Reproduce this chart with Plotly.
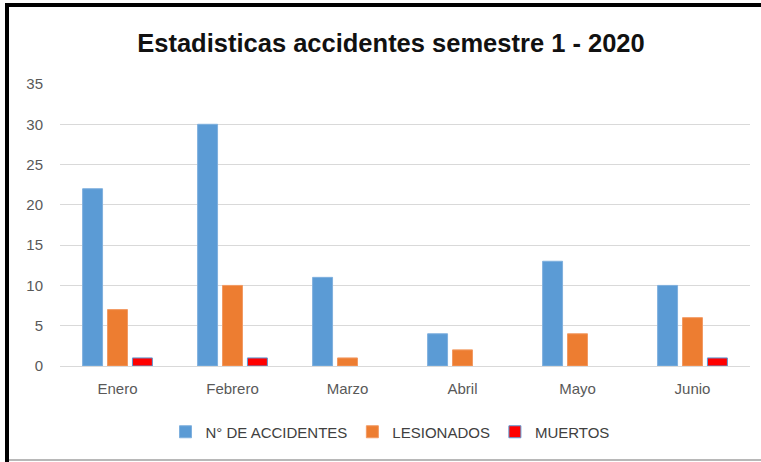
import plotly.graph_objects as go

categories = ["Enero", "Febrero", "Marzo", "Abril", "Mayo", "Junio"]
accidentes = [22, 30, 11, 4, 13, 10]
lesionados = [7, 10, 1, 2, 4, 6]
muertos = [1, 1, 0, 0, 0, 1]
series_names = ["N° DE ACCIDENTES", "LESIONADOS", "MUERTOS"]
y_ticks = [0, 5, 10, 15, 20, 25, 30, 35]

W, H = 761, 462
L, R, T, B = 60, 11, 84, 96
pw, ph = W - L - R, H - T - B

def px_x(p):
    return (p - L) / pw

def px_y(p):
    return (H - B - p) / ph

def edge_widths(vals):
    return [1 if v > 0 else 0 for v in vals]

font_fam = "Liberation Sans, Arial, sans-serif"

fig = go.Figure()
fig.add_bar(x=categories, y=accidentes, name=series_names[0],
            marker=dict(color="#5B9BD5", line=dict(color="#7FB0DE", width=edge_widths(accidentes))))
fig.add_bar(x=categories, y=lesionados, name=series_names[1],
            marker=dict(color="#ED7D31", line=dict(color="#F29A63", width=edge_widths(lesionados))))
fig.add_bar(x=categories, y=muertos, name=series_names[2],
            marker=dict(color="#FF0000", line=dict(color="#5B9BD5", width=edge_widths(muertos))))

fig.update_layout(
    width=W, height=H,
    margin=dict(l=L, r=R, t=T, b=B),
    paper_bgcolor="white", plot_bgcolor="white",
    barmode="group", bargap=0.35, bargroupgap=0.2,
    title=dict(text="<b>Estadisticas accidentes semestre 1 - 2020</b>",
               font=dict(family="Liberation Sans, Arial, sans-serif",
                         size=25.5, color="#111111"),
               x=px_x(391), xref="paper", xanchor="center",
               y=1 - 43 / H, yref="container", yanchor="middle"),
    font=dict(family=font_fam, size=15, color="#595959"),
    xaxis=dict(showgrid=False, showline=False, ticks="", tickfont=dict(size=15, color="#595959"),
               ticklabelstandoff=12),
    yaxis=dict(range=[0, 35], tickvals=y_ticks, showgrid=True, gridcolor="#D9D9D9", gridwidth=1,
               zeroline=True, zerolinecolor="#D9D9D9", zerolinewidth=1,
               tickfont=dict(size=15, color="#595959"), ticklabelstandoff=16, fixedrange=True),
    legend=dict(orientation="h", x=px_x(390), xanchor="center", y=px_y(432), yanchor="middle",
                font=dict(size=15, color="#404040"), itemwidth=30, traceorder="normal"),
    showlegend=True,
)

shapes = [
    dict(type="line", xref="paper", yref="paper", x0=px_x(7), x1=px_x(7), y0=px_y(3), y1=px_y(462),
         line=dict(color="black", width=4)),
    dict(type="line", xref="paper", yref="paper", x0=px_x(5), x1=px_x(761), y0=px_y(5), y1=px_y(5),
         line=dict(color="black", width=4)),
    dict(type="line", xref="paper", yref="paper", x0=px_x(9), x1=px_x(761), y0=px_y(460), y1=px_y(460),
         line=dict(color="#A0A0A0", width=1.5)),
]
fig.update_layout(shapes=shapes)

fig.write_html("out.html", config={"displayModeBar": False},
               post_script="document.body.style.margin='0px';document.body.style.overflow='hidden';")
